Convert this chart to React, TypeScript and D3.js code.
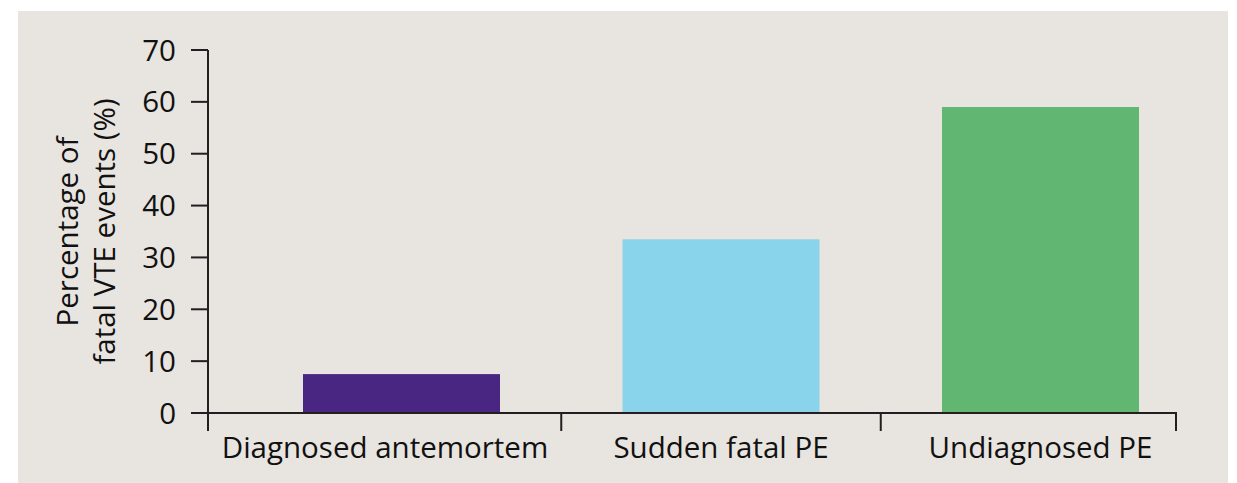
import React, { useRef, useEffect } from "react"
import * as d3 from "d3"

const categories = ["Diagnosed antemortem", "Sudden fatal PE", "Undiagnosed PE"]
const values = [7.5, 33.5, 59]
const barColors = ["#4a2683", "#89d4ea", "#61b771"]
const yTicks = [0, 10, 20, 30, 40, 50, 60, 70]
const yTitle = ["Percentage of", "fatal VTE events (%)"]

const W = 1237
const H = 483
const FONT = "'Open Sans', 'Noto Sans', sans-serif"
const INK = "#231f20"
const FS = 29.5

const App: React.FC = () => {
  const svgRef = useRef<SVGSVGElement>(null)

  useEffect(() => {
    if (!svgRef.current) return
    const svg = d3.select(svgRef.current)
    svg.selectAll("*").remove()

    const axisLeft = 208
    const axisRight = 1176
    const y0 = 413
    const yTop = 50
    const tickLen = 17

    // panel
    svg.append("rect")
      .attr("x", 18).attr("y", 11)
      .attr("width", 1210).attr("height", H - 11)
      .attr("fill", "#e8e4df")

    const y = d3.scaleLinear().domain([0, 70]).range([y0, yTop])

    const x = d3.scaleBand<string>()
      .domain(categories)
      .range([303, 1139])
      .paddingInner(0.3834)
      .paddingOuter(0)

    const g = svg.append("g")

    // bars
    g.selectAll("rect.bar")
      .data(categories)
      .enter().append("rect")
      .attr("class", "bar")
      .attr("x", d => x(d)!)
      .attr("y", (d, i) => y(values[i]))
      .attr("width", x.bandwidth())
      .attr("height", (d, i) => y(0) - y(values[i]))
      .attr("fill", (d, i) => barColors[i])

    // y axis
    g.append("line")
      .attr("x1", axisLeft).attr("x2", axisLeft)
      .attr("y1", yTop).attr("y2", y0 + tickLen + 1)
      .attr("stroke", INK).attr("stroke-width", 2)

    const yt = g.selectAll("g.ytick").data(yTicks).enter().append("g")
      .attr("class", "ytick")
      .attr("transform", d => `translate(0,${y(d)})`)
    yt.append("line")
      .attr("x1", axisLeft - tickLen).attr("x2", axisLeft)
      .attr("stroke", INK).attr("stroke-width", 2)
    yt.append("text")
      .attr("x", 176).attr("dy", "0.36em")
      .attr("text-anchor", "end")
      .attr("font-family", FONT).attr("font-size", FS)
      .attr("fill", "#111")
      .text(d => d)

    // x axis
    g.append("line")
      .attr("x1", axisLeft - tickLen).attr("x2", axisRight + 1)
      .attr("y1", y0).attr("y2", y0)
      .attr("stroke", INK).attr("stroke-width", 2)

    const step = x.step()
    const bounds = [axisLeft]
    categories.slice(1).forEach(c => bounds.push(x(c)! + x.bandwidth() / 2 - step / 2))
    bounds.push(axisRight)

    g.selectAll("line.xtick").data(bounds).enter().append("line")
      .attr("class", "xtick")
      .attr("x1", d => d).attr("x2", d => d)
      .attr("y1", y0).attr("y2", y0 + tickLen + 1)
      .attr("stroke", INK).attr("stroke-width", 2)

    const labels = g.selectAll("text.xlabel").data(categories).enter().append("text")
      .attr("class", "xlabel")
      .attr("y", 458)
      .attr("text-anchor", "middle")
      .attr("font-family", FONT).attr("font-size", FS)
      .attr("fill", "#111")
      .text(d => d)

    labels.each(function (d, i) {
      const el = this as SVGTextElement
      const w = el.getComputedTextLength()
      let cx = x(d)! + x.bandwidth() / 2
      const maxCx = bounds[i + 1] - 13 - w / 2
      if (cx > maxCx) cx = maxCx
      d3.select(el).attr("x", cx)
    })

    // y title
    const cy = (y0 + yTop) / 2
    g.selectAll("text.ytitle").data(yTitle).enter().append("text")
      .attr("class", "ytitle")
      .attr("transform", (d, i) => `translate(${78 + i * 37},${cy}) rotate(-90)`)
      .attr("text-anchor", "middle")
      .attr("font-family", FONT).attr("font-size", FS)
      .attr("fill", "#111")
      .text(d => d)
  }, [])

  return (
    <svg ref={svgRef} width={W} height={H}
      style={{ position: "absolute", left: 0, top: 0, background: "#fff" }} />
  )
}

export default App
